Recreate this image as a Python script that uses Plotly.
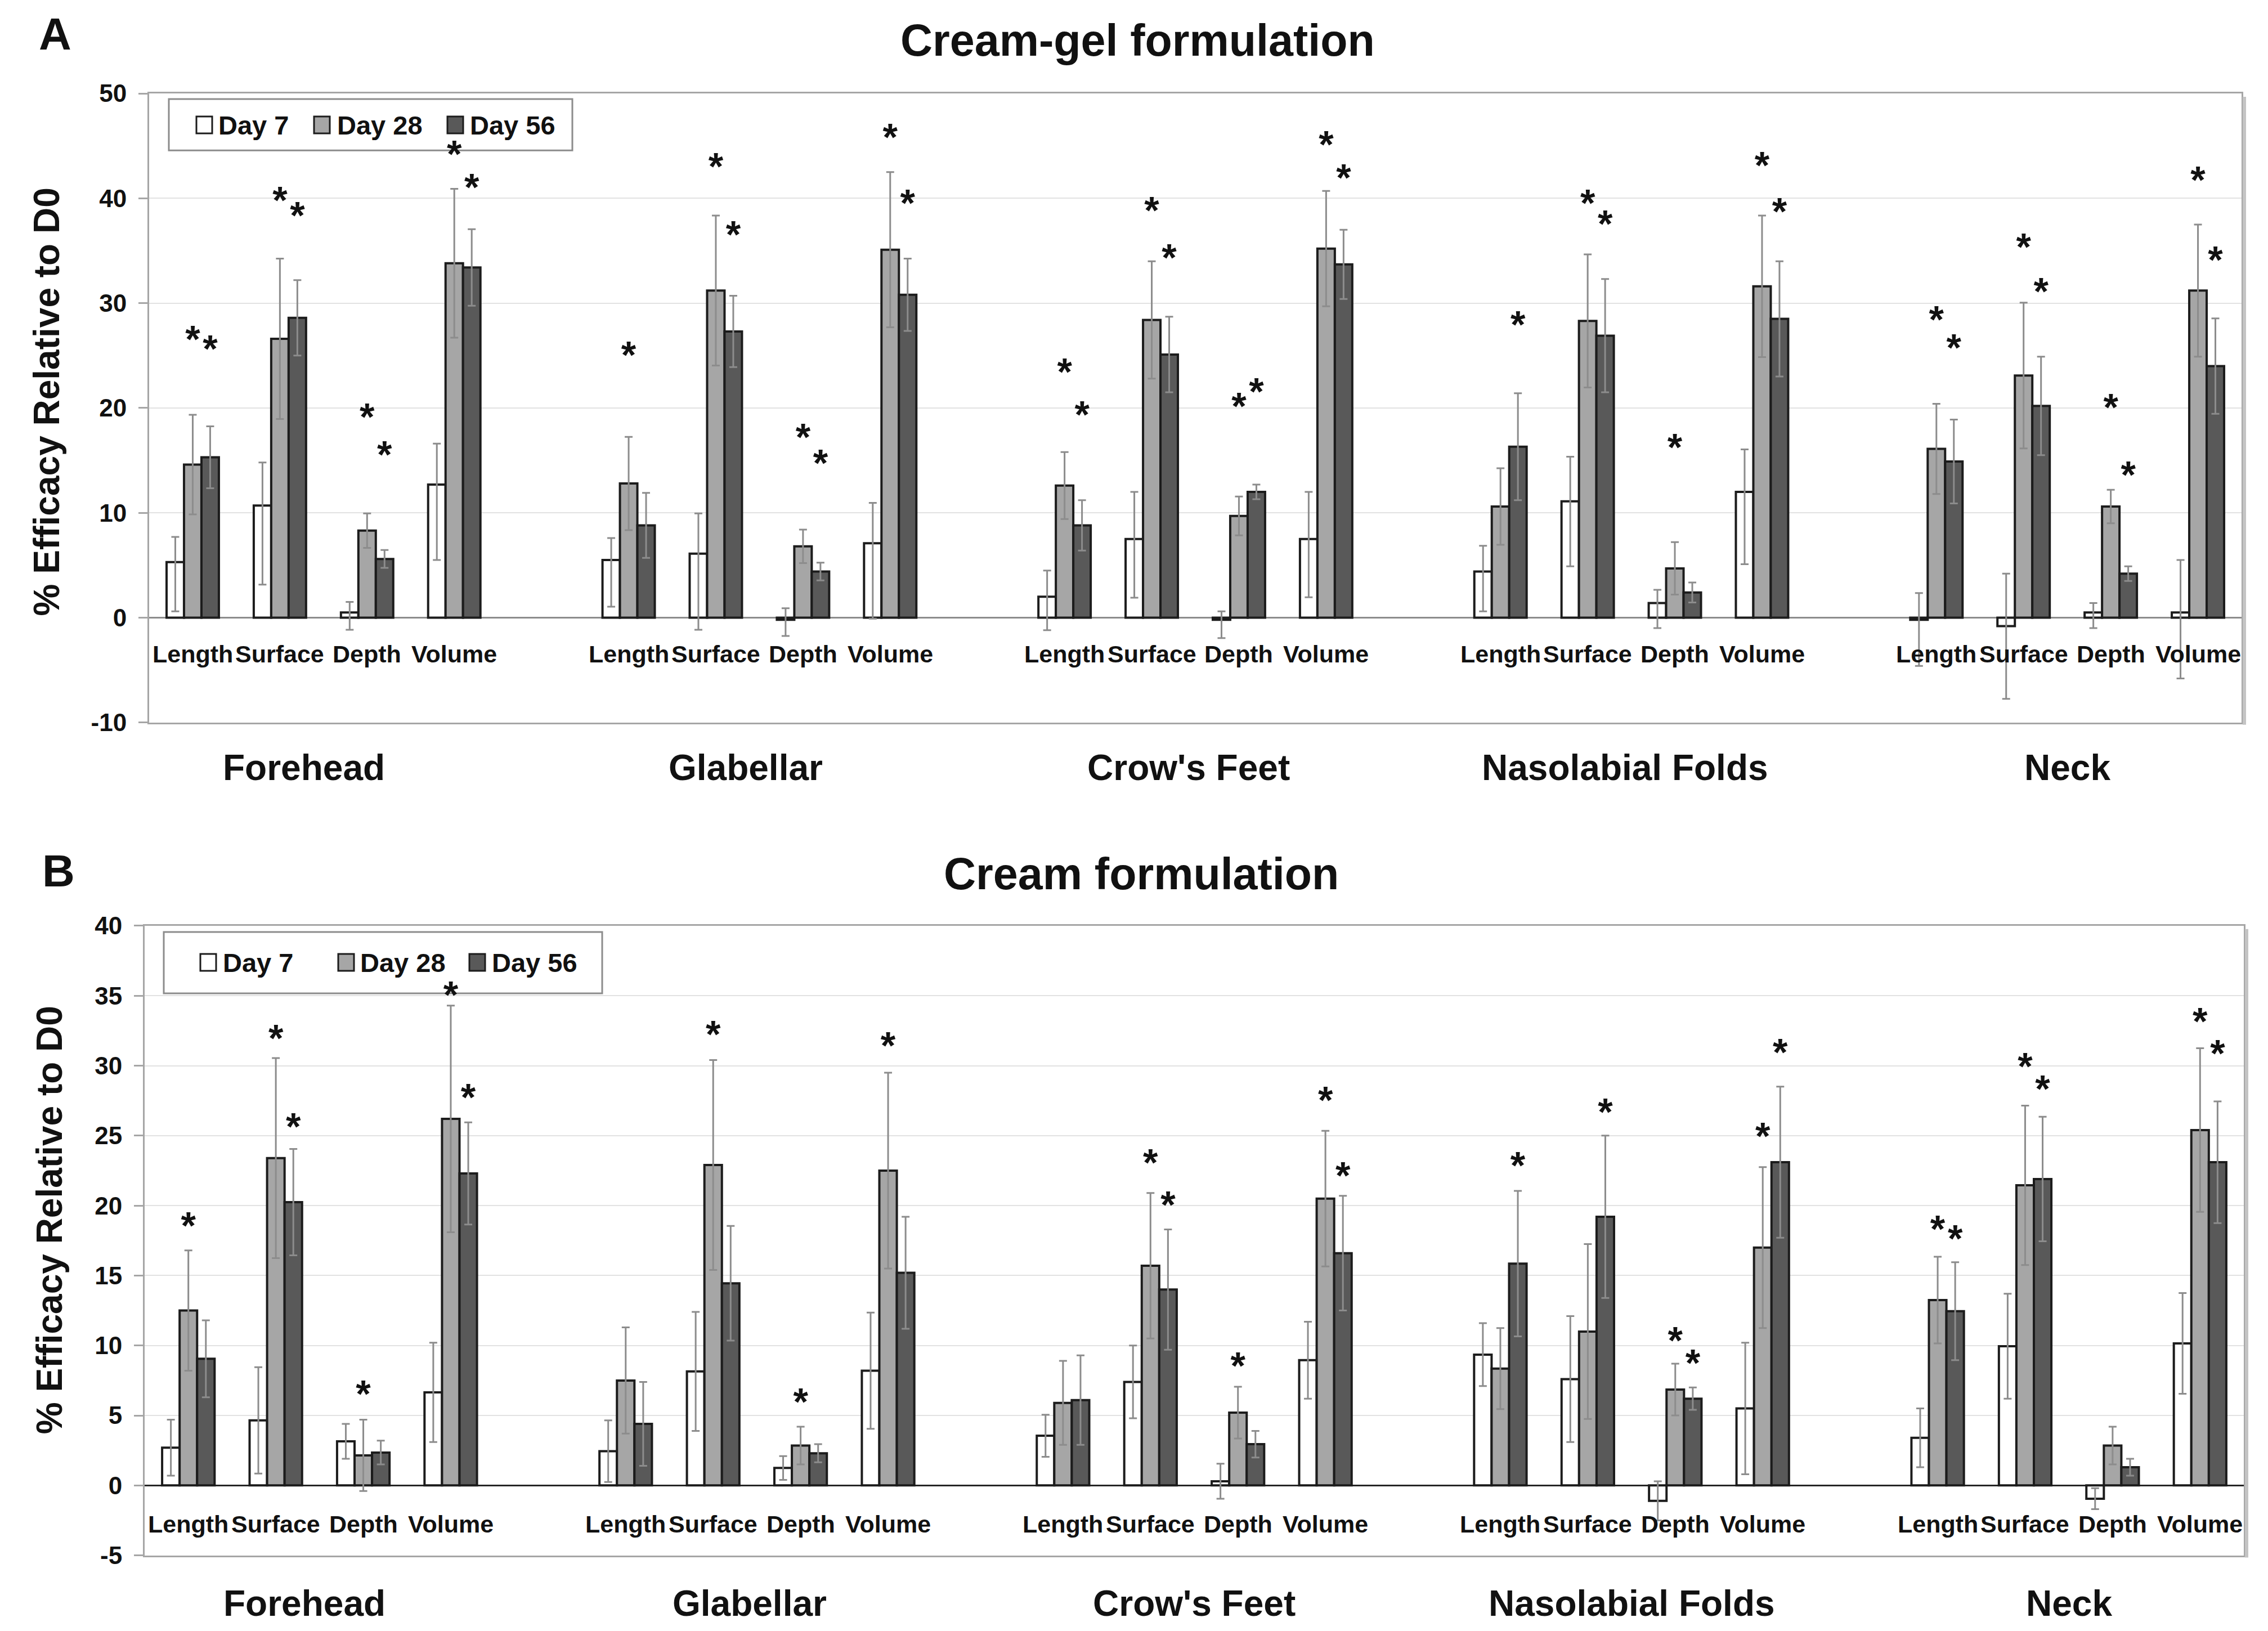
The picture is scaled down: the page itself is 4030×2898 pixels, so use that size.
import plotly.graph_objects as go

# ---------------- data ----------------
regions = ["Forehead", "Glabellar", "Crow's Feet", "Nasolabial Folds", "Neck"]
measures = ["Length", "Surface", "Depth", "Volume"]
days = ["Day 7", "Day 28", "Day 56"]

# Panel A : Cream-gel formulation (order: region x [Length, Surface, Depth, Volume])
a_d7 = [5.3, 10.7, 0.5, 12.7,  5.5, 6.1, -0.2, 7.1,  2.0, 7.5, -0.2, 7.5,  4.4, 11.1, 1.4, 12.0,  -0.2, -0.8, 0.5, 0.5]
a_d7_up = [2.4, 4.1, 1.0, 3.9,  2.1, 3.85, 1.1, 3.85,  2.5, 4.5, 0.8, 4.5,  2.45, 4.25, 1.25, 4.05,  2.55, 5.0, 0.9, 5.0]
a_d7_dn = [4.7, 7.55, 1.65, 7.2,  4.45, 7.25, 1.55, 7.2,  3.2, 5.6, 1.75, 5.55,  3.8, 6.2, 2.4, 6.9,  4.4, 6.95, 1.5, 6.3]
a_d28 = [14.6, 26.6, 8.3, 33.8,  12.8, 31.2, 6.8, 35.1,  12.6, 28.4, 9.7, 35.2,  10.6, 28.3, 4.7, 31.6,  16.1, 23.1, 10.6, 31.2]
a_d28_err = [4.75, 7.65, 1.65, 7.1,  4.45, 7.15, 1.6, 7.4,  3.2, 5.6, 1.85, 5.5,  3.65, 6.35, 2.5, 6.75,  4.3, 6.95, 1.6, 6.3]
a_d56 = [15.3, 28.6, 5.6, 33.4,  8.8, 27.3, 4.4, 30.8,  8.8, 25.1, 12.0, 33.7,  16.3, 26.9, 2.4, 28.5,  14.9, 20.2, 4.2, 24.0]
a_d56_err = [2.95, 3.6, 0.85, 3.65,  3.1, 3.4, 0.85, 3.45,  2.4, 3.6, 0.7, 3.3,  5.1, 5.4, 0.95, 5.5,  4.0, 4.7, 0.7, 4.55]
# significance stars (height of the asterisk, % units; None = no star)
a_d28_star = [27.0, 40.3, 19.6, 44.7,  25.5, 43.5, 17.7, 46.3,  23.9, 39.3, 20.6, 45.6,  None, 40.0, 16.7, 43.6,  28.9, 35.8, 20.5, 42.2]
a_d56_star = [26.1, 38.8, 16.0, 41.5,  None, 37.0, 15.2, 40.0,  19.8, 34.8, 22.0, 42.4,  28.4, 38.0, None, 39.2,  26.2, 31.6, 14.1, 34.6]

# Panel B : Cream formulation
b_d7 = [2.7, 4.65, 3.15, 6.65,  2.45, 8.15, 1.25, 8.2,  3.55, 7.4, 0.3, 8.95,  9.35, 7.6, -1.1, 5.5,  3.4, 9.95, -0.95, 10.15]
b_d7_err = [2.0, 3.8, 1.25, 3.55,  2.2, 4.25, 0.85, 4.15,  1.5, 2.6, 1.25, 2.75,  2.25, 4.5, 1.4, 4.7,  2.1, 3.75, 0.75, 3.6]
b_d28 = [12.5, 23.4, 2.15, 26.2,  7.5, 22.9, 2.85, 22.5,  5.9, 15.7, 5.2, 20.5,  8.35, 11.0, 6.85, 17.0,  13.25, 21.45, 2.85, 25.4]
b_d28_err = [4.3, 7.15, 2.55, 8.1,  3.8, 7.5, 1.35, 7.0,  3.0, 5.2, 1.85, 4.85,  2.9, 6.25, 1.85, 5.75,  3.1, 5.7, 1.35, 5.85]
b_d56 = [9.05, 20.25, 2.35, 22.3,  4.4, 14.45, 2.3, 15.2,  6.1, 14.0, 2.95, 16.6,  15.85, 19.2, 6.2, 23.1,  12.45, 21.9, 1.3, 23.1]
b_d56_err = [2.75, 3.8, 0.85, 3.65,  3.0, 4.1, 0.65, 4.0,  3.2, 4.3, 0.95, 4.1,  5.2, 5.8, 0.8, 5.4,  3.5, 4.45, 0.6, 4.35]
b_d28_star = [18.9, 32.3, 6.9, 35.4,  None, 32.6, 6.3, 31.8,  None, 23.4, 8.9, 27.9,  None, None, 10.7, 25.3,  18.65, 30.3, None, 33.5]
b_d56_star = [None, 26.0, None, 28.1,  None, None, None, None,  None, 20.4, None, 22.5,  23.2, 27.05, 9.1, 31.3,  18.0, 28.7, None, 31.2]

a_ticks = [-10, 0, 10, 20, 30, 40, 50]
a_tick_labels = ["-10", "0", "10", "20", "30", "40", "50"]
b_ticks = [-5, 0, 5, 10, 15, 20, 25, 30, 35, 40]
b_tick_labels = ["-5", "0", "5", "10", "15", "20", "25", "30", "35", "40"]

# ---------------- styling ----------------
W, H = 4030, 2898
FONT = "Liberation Sans"
fills = ["#ffffff", "#a6a6a6", "#595959"]
outline = "#1c1c1c"
err_col = "#8c8c8c"


def px_x(p):
    return p / W


def px_y(p):
    # vertical layout correction (page offset / scale seen in the screenshot)
    q = (p - 31) / 0.9825
    return 1 - q / H


# category slot positions: 4 measures + 1 empty slot per region
slots = [5 * r + m for r in range(len(regions)) for m in range(len(measures))]
cat_labels = [measures[m] for r in range(len(regions)) for m in range(len(measures))]
BARGAP = 0.4
bar_w = (1 - BARGAP) / 3

panels = [
    dict(xa="x", ya="y", xname="xaxis", yname="yaxis",
         series=[(a_d7, a_d7_up, a_d7_dn), (a_d28, a_d28_err, a_d28_err), (a_d56, a_d56_err, a_d56_err)],
         stars=[None, a_d28_star, a_d56_star],
         yrange=[-10, 50], ticks=a_ticks, tick_labels=a_tick_labels,
         xpx=(257, 3975), ypx=(164, 1281),
         zero="#8c8c8c", cat_y=-3.45, region_y=px_y(1361), region_dx=[-0.225, -0.16, -0.08, -0.07, 0.0],
         title="Cream-gel formulation", title_xy=(2013, 69), letter="A", letter_xy=(90, 58),
         ytitle_xy=(75, 712),
         legend_box=(292, 174, 1009, 265), keys=[(341, 550, 787), 205, 235], text_x=(378, 589, 825)),
    dict(xa="x2", ya="y2", xname="xaxis2", yname="yaxis2",
         series=[(b_d7, b_d7_err, b_d7_err), (b_d28, b_d28_err, b_d28_err), (b_d56, b_d56_err, b_d56_err)],
         stars=[None, b_d28_star, b_d56_star],
         yrange=[-5, 40], ticks=b_ticks, tick_labels=b_tick_labels,
         xpx=(249, 3979), ypx=(1642, 2760),
         zero="#262626", cat_y=-2.75, region_y=px_y(2845), region_dx=[-0.17, -0.08, 0.0, 0.0, 0.0],
         title="Cream formulation", title_xy=(2020, 1550), letter="B", letter_xy=(96, 1545),
         ytitle_xy=(80, 2165),
         legend_box=(283, 1653, 1062, 1762), keys=[(348, 593, 826), 1692, 1722], text_x=(386, 630, 864)),
]

fig = go.Figure()
annotations = []
shapes = []

for p in panels:
    xdom = [px_x(p["xpx"][0]), px_x(p["xpx"][1])]
    ydom = [px_y(p["ypx"][1]), px_y(p["ypx"][0])]
    plot_h_px = (ydom[1] - ydom[0]) * H
    units_per_px = (p["yrange"][1] - p["yrange"][0]) / plot_h_px
    for j, (vals, up, dn) in enumerate(p["series"]):
        fig.add_trace(go.Bar(
            x=slots, y=vals, name=days[j], xaxis=p["xa"], yaxis=p["ya"],
            marker=dict(color=fills[j], line=dict(color=outline, width=4)),
            error_y=dict(type="data", symmetric=False, array=up, arrayminus=dn,
                         color=err_col, thickness=3, width=7),
            showlegend=False,
        ))
    for j, st in enumerate(p["stars"]):
        if st is None:
            continue
        xs = [s + (j - 1) * bar_w for s, v in zip(slots, st) if v is not None]
        ys = [v - 15 * units_per_px for v in st if v is not None]
        fig.add_trace(go.Scatter(
            x=xs, y=ys, mode="text", text=["*"] * len(xs), xaxis=p["xa"], yaxis=p["ya"],
            textposition="middle center",
            textfont=dict(family=FONT, size=68, color="#111111", weight="bold"),
            showlegend=False, hoverinfo="skip",
        ))

    fig.layout[p["xname"]] = dict(
        domain=xdom, anchor=p["ya"], range=[-0.5, len(regions) * 5 - 1 - 0.5],
        showticklabels=False, ticks="", showgrid=False, zeroline=False,
        showline=True, linecolor="#a6a6a6", linewidth=3, mirror=True,
    )
    fig.layout[p["yname"]] = dict(
        domain=ydom, anchor=p["xa"], range=p["yrange"],
        tickvals=p["ticks"], ticktext=p["tick_labels"],
        tickfont=dict(family=FONT, size=44, color="#111111", weight="bold"),
        ticks="outside", ticklen=16, tickwidth=3, tickcolor="#a6a6a6",
        ticklabelstandoff=12,
        showgrid=True, gridcolor="#e2e2e2", gridwidth=2,
        zeroline=True, zerolinecolor=p["zero"], zerolinewidth=3,
        showline=True, linecolor="#a6a6a6", linewidth=3, mirror=True,
    )

    # soft shadow along the right edge of the plot frame
    shapes.append(dict(type="line", xref="paper", yref="paper", layer="above",
                       x0=xdom[1] + 5 / W, x1=xdom[1] + 5 / W,
                       y0=ydom[0] - 4 / H, y1=ydom[1] - 6 / H,
                       line=dict(color="#c4c4c4", width=6)))

    # measure labels beside the zero line
    for s, lab in zip(slots, cat_labels):
        annotations.append(dict(
            x=s, y=p["cat_y"], xref=p["xa"], yref=p["ya"], text=lab, showarrow=False,
            font=dict(family=FONT, size=43, color="#111111", weight="bold"),
            xanchor="center", yanchor="middle"))
    # region labels
    for r, reg in enumerate(regions):
        annotations.append(dict(
            x=5 * r + 1.5 + p["region_dx"][r], y=p["region_y"], xref=p["xa"], yref="paper",
            text=reg, showarrow=False,
            font=dict(family=FONT, size=64, color="#111111", weight="bold"),
            xanchor="center", yanchor="middle"))
    # titles
    annotations.append(dict(
        x=px_x(p["title_xy"][0]), y=px_y(p["title_xy"][1]), xref="paper", yref="paper",
        text=p["title"], showarrow=False, xanchor="center", yanchor="middle",
        font=dict(family=FONT, size=79, color="#111111", weight="bold")))
    annotations.append(dict(
        x=px_x(p["letter_xy"][0]), y=px_y(p["letter_xy"][1]), xref="paper", yref="paper",
        text=p["letter"], showarrow=False, xanchor="center", yanchor="middle",
        font=dict(family=FONT, size=80, color="#111111", weight="bold")))
    annotations.append(dict(
        x=px_x(p["ytitle_xy"][0]), y=px_y(p["ytitle_xy"][1]), xref="paper", yref="paper",
        text="% Efficacy Relative to D0", showarrow=False, textangle=-90,
        xanchor="center", yanchor="middle",
        font=dict(family=FONT, size=64, color="#111111", weight="bold")))

    # legend box (drawn below the traces so significance stars stay visible)
    x0, y0, x1, y1 = p["legend_box"]
    shapes.append(dict(type="rect", xref="paper", yref="paper", layer="below",
                       x0=px_x(x0), x1=px_x(x1), y0=px_y(y1), y1=px_y(y0),
                       line=dict(color="#8c8c8c", width=3), fillcolor="white"))
    kx, ky0, ky1 = p["keys"]
    for j in range(3):
        shapes.append(dict(type="rect", xref="paper", yref="paper", layer="below",
                           x0=px_x(kx[j]), x1=px_x(kx[j] + 28), y0=px_y(ky1), y1=px_y(ky0),
                           line=dict(color=outline, width=3), fillcolor=fills[j]))
        annotations.append(dict(
            x=px_x(p["text_x"][j]), y=px_y((ky0 + ky1) / 2), xref="paper", yref="paper",
            text=days[j], showarrow=False, xanchor="left", yanchor="middle",
            font=dict(family=FONT, size=47, color="#111111", weight="bold")))

fig.update_layout(
    width=W, height=H, margin=dict(l=0, r=0, t=0, b=0),
    paper_bgcolor="white", plot_bgcolor="rgba(0,0,0,0)",
    barmode="group", bargap=BARGAP, bargroupgap=0,
    annotations=annotations, shapes=shapes, showlegend=False,
)

fig.write_html("out.html")
